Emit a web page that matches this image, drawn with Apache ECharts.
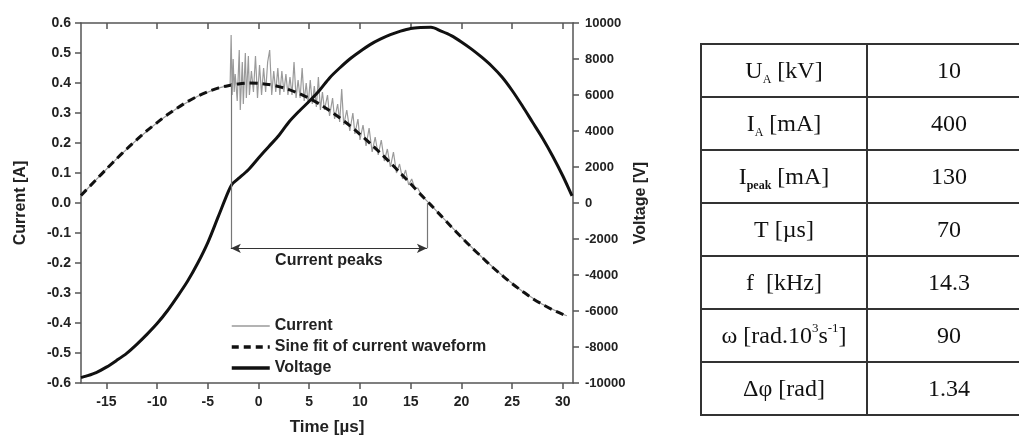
<!DOCTYPE html>
<html>
<head>
<meta charset="utf-8">
<script src="https://cdn.jsdelivr.net/npm/echarts@6/dist/echarts.min.js"></script>
<style>
  html, body { margin: 0; background: #fff; }
  #chart { width: 1019px; height: 441px; }
</style>
</head>
<body>
<div id="chart"></div>
<script>
// x ticks (µs)
const xTicks = [-15, -10, -5, 0, 5, 10, 15, 20, 25, 30];

// sine fit of current waveform [A]
const fitTime = [-17.5, -17, -16, -15, -14, -13, -12, -11, -10, -9, -8, -7, -6, -5, -4, -3, -2, -1, 0,
  1, 2, 3, 4, 5, 6, 7, 8, 9, 10, 11, 12, 13, 14, 15, 16, 17, 18, 19, 20,
  21, 22, 23, 24, 25, 26, 27, 28, 29, 30, 30.4];
const fitCurrent = [0.025, 0.043, 0.078, 0.113, 0.147, 0.180, 0.211, 0.241, 0.268, 0.294, 0.317, 0.338, 0.356, 0.371, 0.383, 0.391, 0.397, 0.400, 0.399,
  0.395, 0.388, 0.378, 0.365, 0.349, 0.330, 0.308, 0.284, 0.258, 0.229, 0.199, 0.167, 0.134, 0.099, 0.064, 0.028, -0.007, -0.043, -0.079, -0.114,
  -0.148, -0.180, -0.212, -0.241, -0.269, -0.294, -0.318, -0.338, -0.356, -0.371, -0.376];

// measured current [A] (with peaks)
const currentTime = [-17.5, -16, -14, -12, -10, -8, -6, -4, -3, -2.8,
  -2.7, -2.6, -2.5, -2.4, -2.3, -2.1, -1.9, -1.8, -1.6, -1.5, -1.3, -1.2, -1.0, -0.9, -0.7, -0.5, -0.3, -0.1,
  0.1, 0.3, 0.5, 0.7, 0.9, 1.1, 1.3, 1.5, 1.7, 1.9, 2.1, 2.3, 2.5, 2.7, 2.9, 3.1, 3.3, 3.5, 3.7, 3.9,
  4.1, 4.3, 4.5, 4.7, 4.9, 5.1, 5.3, 5.5, 5.7, 5.9, 6.1, 6.3, 6.5, 6.8, 7.0, 7.3, 7.5, 7.8, 8.0, 8.2, 8.4, 8.7,
  9.0, 9.3, 9.5, 9.8, 10.0, 10.3, 10.6, 10.9, 11.2, 11.5, 11.8, 12.1, 12.4, 12.7, 13.0, 13.3, 13.6, 13.9,
  14.2, 14.5, 14.8, 15.1, 15.4, 15.7, 16.0, 16.3,
  17, 18, 20, 22, 24, 26, 28, 30, 30.4];
const currentValues = [0.025, 0.078, 0.147, 0.211, 0.268, 0.317, 0.356, 0.383, 0.391, 0.393,
  0.56, 0.36, 0.48, 0.37, 0.43, 0.34, 0.51, 0.31, 0.47, 0.33, 0.50, 0.35, 0.49, 0.36, 0.44, 0.37, 0.49, 0.35,
  0.46, 0.36, 0.45, 0.37, 0.47, 0.51, 0.36, 0.44, 0.37, 0.45, 0.36, 0.44, 0.37, 0.43, 0.36, 0.42, 0.36, 0.47, 0.35, 0.41,
  0.35, 0.45, 0.34, 0.40, 0.33, 0.41, 0.33, 0.39, 0.32, 0.42, 0.31, 0.37, 0.31, 0.36, 0.29, 0.35, 0.28, 0.33, 0.27, 0.38, 0.26, 0.31,
  0.24, 0.30, 0.23, 0.28, 0.21, 0.26, 0.19, 0.25, 0.17, 0.22, 0.16, 0.21, 0.14, 0.18, 0.12, 0.17, 0.10, 0.13,
  0.08, 0.11, 0.06, 0.08, 0.05, 0.05, 0.03, 0.017,
  -0.007, -0.043, -0.114, -0.180, -0.241, -0.294, -0.338, -0.371, -0.376];

// voltage [V]
const voltageTime = [-17.5, -17, -16, -15, -14, -13, -12, -11, -10, -9, -8, -7, -6, -5, -4, -3, -2.6, -2, -1, 0,
  1, 2, 3, 4, 5, 6, 7, 8, 9, 10, 11, 12, 13, 14, 15, 16, 17, 18, 19, 20,
  21, 22, 23, 24, 25, 26, 27, 28, 29, 30, 30.9];
const voltageValues = [-9700, -9620, -9420, -9120, -8750, -8350, -7850, -7300, -6700, -6000, -5200, -4350, -3350, -2200, -800, 600, 1050, 1350, 1850, 2500,
  3130, 3750, 4500, 5100, 5650, 6250, 6950, 7500, 8000, 8420, 8800, 9100, 9350, 9550, 9700, 9750, 9760, 9550, 9300, 8950,
  8550, 8100, 7600, 7000, 6250, 5400, 4500, 3600, 2600, 1500, 400];

// "Current peaks" bracket
const peakStart = -2.73, peakEnd = 16.6, peakTop = 0.40, peakBottom = 0.0, peakLevel = -0.151;

// parameter table
const tableNames = ['U{sub|A} [kV]', 'I{sub|A} [mA]', 'I{subb|peak} [mA]', 'T [µs]', 'f  [kHz]',
  'ω [rad.10{sup|3}s{sup|-1}]', 'Δφ [rad]'];
const tableValues = ['10', '400', '130', '70', '14.3', '90', '1.34'];

const zip = (xs, ys) => xs.map((x, i) => [x, ys[i]]);

const sans = 'Liberation Sans';
const serif = 'Liberation Serif';
const ink = '#222';
const frame = '#555';

// table drawn with graphic elements
const tLeft = 701, tMid = 867, tRight = 1031, tTop = 44, rowH = 53;
const graphics = [];
graphics.push({
  type: 'rect', silent: true,
  shape: { x: tLeft, y: tTop, width: tRight - tLeft, height: rowH * tableNames.length },
  style: { fill: 'none', stroke: '#333', lineWidth: 2 }
});
for (let i = 1; i < tableNames.length; i++) {
  graphics.push({
    type: 'line', silent: true,
    shape: { x1: tLeft, y1: tTop + rowH * i, x2: tRight, y2: tTop + rowH * i },
    style: { stroke: '#333', lineWidth: 2 }
  });
}
graphics.push({
  type: 'line', silent: true,
  shape: { x1: tMid, y1: tTop, x2: tMid, y2: tTop + rowH * tableNames.length },
  style: { stroke: '#333', lineWidth: 2 }
});
const richT = {
  sub: { fontFamily: serif, fontSize: 12, lineHeight: 14, verticalAlign: 'bottom', fill: '#111' },
  subb: { fontFamily: serif, fontSize: 12, fontWeight: 'bold', lineHeight: 14, verticalAlign: 'bottom', fill: '#111' },
  sup: { fontFamily: serif, fontSize: 13, lineHeight: 20, verticalAlign: 'top', fill: '#111' }
};
tableNames.forEach((name, i) => {
  const cy = tTop + rowH * i + rowH / 2 + 1;
  graphics.push({
    type: 'text', silent: true, x: (tLeft + tMid) / 2, y: cy,
    style: { text: name, fontFamily: serif, fontSize: 24, lineHeight: 28, fill: '#111',
      align: 'center', verticalAlign: 'middle', rich: richT }
  });
  graphics.push({
    type: 'text', silent: true, x: 949, y: cy,
    style: { text: tableValues[i], fontFamily: serif, fontSize: 24, fill: '#111',
      align: 'center', verticalAlign: 'middle' }
  });
});

const chart = echarts.init(document.getElementById('chart'));

const option = {
  animation: false,
  backgroundColor: '#fff',
  grid: { left: 81, right: 446, top: 23, bottom: 55, containLabel: false },
  legend: {
    orient: 'vertical', left: 225, top: 313,
    itemWidth: 38, itemHeight: 14, itemGap: 5,
    selectedMode: false,
    itemStyle: { opacity: 0 },
    textStyle: { fontFamily: sans, fontSize: 16, fontWeight: 'bold', color: ink },
    data: [
      { name: 'Current', itemStyle: { opacity: 0 }, lineStyle: { color: '#9a9a9a', width: 1.5 } },
      { name: 'Sine fit of current waveform', itemStyle: { opacity: 0 }, lineStyle: { color: '#111', width: 3.5, type: [7, 5] } },
      { name: 'Voltage', itemStyle: { opacity: 0 }, lineStyle: { color: '#111', width: 3.5 } }
    ]
  },
  xAxis: [
    {
      type: 'value', position: 'bottom', min: -17.5, max: 31,
      name: 'Time [µs]', nameLocation: 'middle', nameGap: 36,
      nameTextStyle: { fontFamily: sans, fontSize: 17, fontWeight: 'bold', color: ink },
      axisLine: { onZero: false, lineStyle: { color: frame, width: 1.5 } },
      axisTick: { inside: false, length: 6, customValues: xTicks, lineStyle: { color: frame, width: 1.5 } },
      axisLabel: { customValues: xTicks, margin: 12, fontFamily: sans, fontSize: 14, fontWeight: 'bold', color: ink },
      splitLine: { show: false }
    },
    {
      type: 'value', position: 'top', min: -17.5, max: 31,
      axisLine: { onZero: false, lineStyle: { color: frame, width: 1.5 } },
      axisTick: { inside: true, length: 6, customValues: xTicks, lineStyle: { color: frame, width: 1.5 } },
      axisLabel: { show: false },
      splitLine: { show: false }
    }
  ],
  yAxis: [
    {
      type: 'value', position: 'left', min: -0.6, max: 0.6, interval: 0.1,
      name: 'Current [A]', nameLocation: 'middle', nameGap: 52,
      nameTextStyle: { fontFamily: sans, fontSize: 16, fontWeight: 'bold', color: ink },
      axisLine: { show: true, onZero: false, lineStyle: { color: frame, width: 1.5 } },
      axisTick: { show: true, length: 6, lineStyle: { color: frame, width: 1.5 } },
      axisLabel: {
        margin: 10, fontFamily: sans, fontSize: 14, fontWeight: 'bold', color: ink,
        formatter: v => (Math.abs(v) < 1e-9 ? 0 : v).toFixed(1)
      },
      splitLine: { show: false }
    },
    {
      type: 'value', position: 'right', min: -10000, max: 10000, interval: 2000,
      name: 'Voltage [V]', nameLocation: 'middle', nameGap: 60,
      nameTextStyle: { fontFamily: sans, fontSize: 16, fontWeight: 'bold', color: ink },
      axisLine: { show: true, onZero: false, lineStyle: { color: frame, width: 1.5 } },
      axisTick: { show: true, length: 6, lineStyle: { color: frame, width: 1.5 } },
      axisLabel: { margin: 12, fontFamily: sans, fontSize: 13, fontWeight: 'bold', color: ink,
        formatter: v => String(v) },
      splitLine: { show: false }
    }
  ],
  series: [
    {
      name: 'Current', type: 'line', xAxisIndex: 0, yAxisIndex: 0,
      data: zip(currentTime, currentValues),
      symbol: 'none', z: 2, silent: true,
      lineStyle: { color: '#9a9a9a', width: 1.2 },
      itemStyle: { color: '#9a9a9a' },
      markLine: {
        silent: true, animation: false, precision: 3,
        lineStyle: { color: '#777', width: 1.2, type: 'solid' },
        label: { show: false },
        data: [
          [{ coord: [peakStart, peakTop], symbol: 'none' }, { coord: [peakStart, peakLevel], symbol: 'none' }],
          [{ coord: [peakEnd, peakBottom], symbol: 'none' }, { coord: [peakEnd, peakLevel], symbol: 'none' }],
          [
            { coord: [peakStart, peakLevel], symbol: 'arrow', symbolSize: [7, 10],
              lineStyle: { color: '#333', width: 1.2 },
              label: { show: true, position: 'insideMiddleBottom', formatter: 'Current peaks', distance: 4,
                fontFamily: sans, fontSize: 16, fontWeight: 'bold', color: ink } },
            { coord: [peakEnd, peakLevel], symbol: 'arrow', symbolSize: [7, 10] }
          ]
        ]
      }
    },
    {
      name: 'Sine fit of current waveform', type: 'line', xAxisIndex: 0, yAxisIndex: 0,
      data: zip(fitTime, fitCurrent),
      symbol: 'none', z: 3, silent: true, smooth: 0.3,
      lineStyle: { color: '#111', width: 3, type: [8, 5] },
      itemStyle: { color: '#111' }
    },
    {
      name: 'Voltage', type: 'line', xAxisIndex: 0, yAxisIndex: 1,
      data: zip(voltageTime, voltageValues),
      symbol: 'none', z: 4, silent: true, smooth: 0.3,
      lineStyle: { color: '#111', width: 3 },
      itemStyle: { color: '#111' }
    }
  ],
  graphic: graphics
};

chart.setOption(option);
</script>
</body>
</html>
